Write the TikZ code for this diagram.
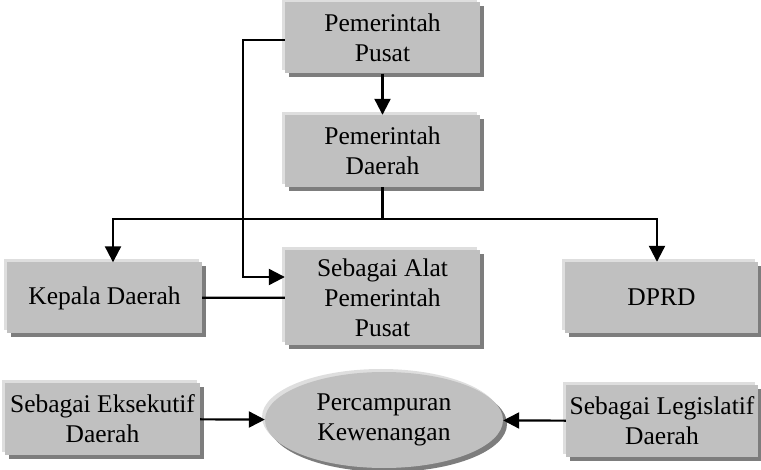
\documentclass[tikz,border=0pt]{standalone}
\usepackage{fontspec}
\setmainfont{Liberation Serif}
\usetikzlibrary{arrows.meta,shadows,shapes.geometric}
\definecolor{boxgray}{RGB}{192,192,192}
\definecolor{shadegray}{RGB}{125,125,125}
\definecolor{edgegray}{RGB}{222,222,222}
\begin{document}
\begin{tikzpicture}[x=1pt, y=-1pt, >={Triangle[length=16pt,width=16pt]},
		box/.style={fill=boxgray, align=center, inner sep=0pt, minimum width=195pt, minimum height=71pt,
			font=\fontsize{25.5}{30}\selectfont,
			general shadow={fill=edgegray, shadow xshift=-3pt, shadow yshift=3pt},
			general shadow={fill=shadegray, shadow xshift=4pt, shadow yshift=-4pt}},
		link/.style={line width=2.2pt}]
	\useasboundingbox (0,0) rectangle (761,470);
	% upper chart
	\node[box] (pusat) at (382.5,38) {Pemerintah\\Pusat};
	\node[box, minimum height=72pt] (daerah) at (382.5,151) {Pemerintah\\Daerah};
	\node[box, minimum height=95pt] (alat) at (382.5,297.5) {Sebagai Alat\\Pemerintah\\Pusat};
	\node[box] (kepala) at (104.5,298) {Kepala Daerah};
	\node[box, minimum width=193pt] (dprd) at (661.5,297.5) {DPRD};
	% lower row
	\node[box, minimum height=72pt] (eksekutif) at (102.5,419) {Sebagai Eksekutif\\Daerah};
	\node[box, minimum width=192pt, minimum height=72pt] (legislatif) at (662,421) {Sebagai Legislatif\\Daerah};
	\node[box, ellipse, minimum width=238pt, minimum height=96pt] (campur) at (384,420) {Percampuran\\Kewenangan};
	% joints
	\coordinate (split) at (daerah.south |- 0,219);
	\coordinate (kj) at (113,219);
	\coordinate (dj) at (657,219);
	\coordinate (pl) at (243,40);
	\coordinate (al) at (243,277);
	% connectors
	\draw[link, ->] (pusat) -- (daerah);
	\draw[link] (daerah.south) -- (split);
	\draw[link, ->] (split) -- (kj) -- (kj |- kepala.north);
	\draw[link, ->] (split) -- (dj) -- (dj |- dprd.north);
	\draw[link, ->] (pusat.west |- pl) -- (pl) -- (al) -- (al -| alat.west);
	\draw[link] (kepala) -- (alat);
	\draw[link, ->] (eksekutif) -- (campur);
	\draw[link, ->] (legislatif) -- (campur);
\end{tikzpicture}
\end{document}
